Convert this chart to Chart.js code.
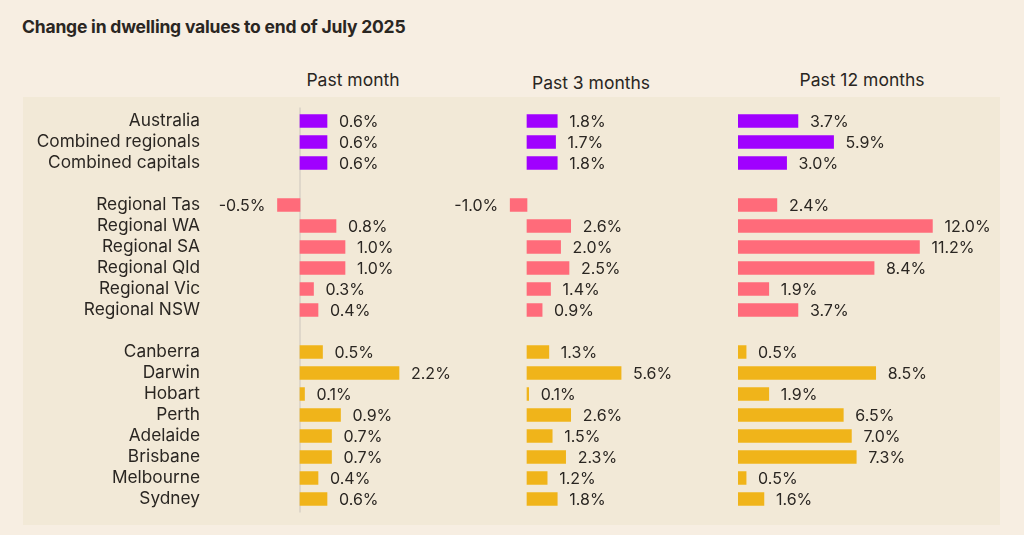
<!DOCTYPE html>
<html>
<head>
<meta charset="utf-8">
<script src="https://cdn.jsdelivr.net/npm/chart.js@4.4.1/dist/chart.umd.min.js"></script>
<style>
  html, body { margin: 0; padding: 0; background: #f7eee2; }
  #wrap { position: relative; width: 1024px; height: 535px; overflow: hidden; font-family: Inter, 'Noto Sans', sans-serif; color: #2a2622; }
  #panel { position: absolute; left: 23px; top: 97px; width: 977px; height: 428px; background: #f2e9d7; }
  #title { position: absolute; left: 22px; top: 16px; font-size: 17.5px; font-weight: 700; letter-spacing: -0.2px; }
  .head { position: absolute; font-size: 17.5px; transform: translateX(-50%); white-space: nowrap; }
  canvas { position: absolute; left: 0; top: 0; }
</style>
</head>
<body>
<div id="wrap">
  <div id="panel"></div>
  <div id="title">Change in dwelling values to end of July 2025</div>
  <div class="head" style="left:353px; top:69px;">Past month</div>
  <div class="head" style="left:591px; top:72px;">Past 3 months</div>
  <div class="head" style="left:862px; top:69px;">Past 12 months</div>
  <canvas id="c1" width="1024" height="535"></canvas>
  <canvas id="c2" width="1024" height="535"></canvas>
  <canvas id="c3" width="1024" height="535"></canvas>
</div>
<script>
// ── Data ─────────────────────────────────────────────
const LABELS = ['Australia', 'Combined regionals', 'Combined capitals', ' ',
  'Regional Tas', 'Regional WA', 'Regional SA', 'Regional Qld', 'Regional Vic', 'Regional NSW', '  ',
  'Canberra', 'Darwin', 'Hobart', 'Perth', 'Adelaide', 'Brisbane', 'Melbourne', 'Sydney'];
const GROUP = [0, 0, 0, null, 1, 1, 1, 1, 1, 1, null, 2, 2, 2, 2, 2, 2, 2, 2];
const PAST_MONTH = [0.6, 0.6, 0.6, null, -0.5, 0.8, 1.0, 1.0, 0.3, 0.4, null, 0.5, 2.2, 0.1, 0.9, 0.7, 0.7, 0.4, 0.6];
const PAST_3M    = [1.8, 1.7, 1.8, null, -1.0, 2.6, 2.0, 2.5, 1.4, 0.9, null, 1.3, 5.6, 0.1, 2.6, 1.5, 2.3, 1.2, 1.8];
const PAST_12M   = [3.7, 5.9, 3.0, null, 2.4, 12.0, 11.2, 8.4, 1.9, 3.7, null, 0.5, 8.5, 1.9, 6.5, 7.0, 7.3, 0.5, 1.6];
const GROUP_COLORS = ['#a000ff', '#ff6b7a', '#f0b41a'];

const FONT = "Inter, 'Noto Sans', sans-serif";
const TEXT = '#2a2622';

// value labels next to each bar
const valueLabelPlugin = {
  id: 'valueLabels',
  afterDatasetsDraw(chart) {
    const { ctx } = chart;
    const meta = chart.getDatasetMeta(0);
    const data = chart.data.datasets[0].data;
    ctx.save();
    ctx.font = '16px ' + FONT;
    ctx.fillStyle = TEXT;
    ctx.textBaseline = 'middle';
    meta.data.forEach((bar, i) => {
      const v = data[i];
      if (v === null) return;
      const txt = v.toFixed(1) + '%';
      if (v < 0) {
        ctx.textAlign = 'right';
        ctx.fillText(txt, bar.x - 12, bar.y + 1);
      } else {
        ctx.textAlign = 'left';
        ctx.fillText(txt, bar.x + 12, bar.y + 1);
      }
    });
    ctx.restore();
  }
};

// zero line in the first column
const zeroLinePlugin = {
  id: 'zeroLine',
  beforeDatasetsDraw(chart, args, opts) {
    if (!opts.show) return;
    const { ctx, chartArea, scales } = chart;
    const x = scales.x.getPixelForValue(0);
    ctx.save();
    ctx.strokeStyle = '#d8d1c6';
    ctx.lineWidth = 1.5;
    ctx.beginPath();
    ctx.moveTo(x, chartArea.top - 3);
    ctx.lineTo(x, chartArea.bottom + 3);
    ctx.stroke();
    ctx.restore();
  }
};

function makeChart(id, values, xMin, xMax, padLeft, padRight, showLabels) {
  return new Chart(document.getElementById(id), {
    type: 'bar',
    plugins: [valueLabelPlugin, zeroLinePlugin],
    data: {
      labels: LABELS,
      datasets: [{
        data: values,
        backgroundColor: GROUP.map(g => g === null ? 'transparent' : GROUP_COLORS[g]),
        borderWidth: 0,
        barThickness: 13,
      }]
    },
    options: {
      indexAxis: 'y',
      responsive: false,
      animation: false,
      layout: { padding: { left: padLeft, right: padRight, top: 110.5, bottom: 25.5 } },
      plugins: {
        legend: { display: false },
        tooltip: { enabled: false },
        zeroLine: { show: showLabels },
      },
      scales: {
        x: { display: false, min: xMin, max: xMax },
        y: {
          display: showLabels,
          grid: { display: false },
          border: { display: false },
          ticks: { font: { family: FONT, size: 17.3 }, color: TEXT, padding: 2, autoSkip: false },
          afterFit(scale) { if (showLabels) scale.width = 210; }
        }
      }
    }
  });
}

window.addEventListener('DOMContentLoaded', () => {
  // column 1: ~45px per %, zero at x=300
  makeChart('c1', PAST_MONTH, -2, 4.5, 0, 521.5, true);
  // column 2: ~16.8px per %, zero at x=527
  makeChart('c2', PAST_3M, -4, 8, 459.8, 362.6, false);
  // column 3: ~16.2px per %, zero at x=738
  makeChart('c3', PAST_12M, 0, 14, 738, 59.2, false);
});
</script>
</body>
</html>
